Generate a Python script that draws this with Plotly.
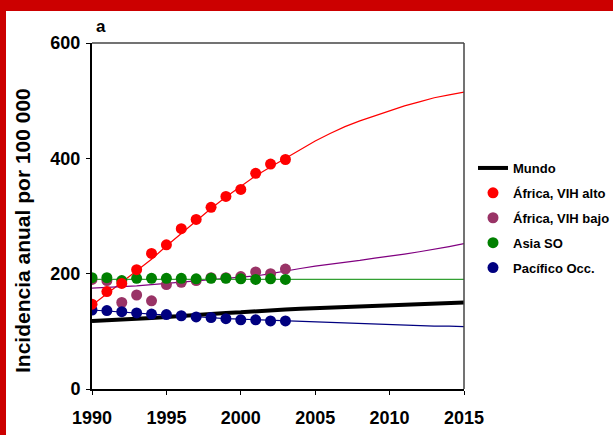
import plotly.graph_objects as go

# ---- data ----
obs_years = list(range(1990, 2004))
proj_years = list(range(1990, 2016))

africa_alto_obs = [147, 169, 183, 207, 235, 250, 278, 294, 315, 334, 346, 374, 390, 398]
africa_bajo_obs = [190, 188, 150, 163, 153, 181, 185, 188, 193, 193, 195, 203, 200, 208]
asia_so_obs = [193, 193, 188, 192, 192, 192, 192, 191, 192, 192, 191, 190, 191, 190]
pacifico_obs = [137, 136, 134, 132, 130, 129, 127, 125, 124, 122, 120, 120, 118, 118]

africa_alto_proj = [145, 165, 185, 205, 225, 248, 270, 292, 313, 333, 352, 370, 385, 400,
                    415, 430, 443, 455, 465, 474, 483, 491, 498, 505, 510, 515]
africa_bajo_proj = [175, 176, 178, 179, 181, 183, 185, 187, 189, 191, 193, 196, 200, 205,
                    209, 213, 216, 220, 223, 227, 230, 234, 238, 242, 247, 252]
asia_so_proj = [190] * 26
pacifico_proj = [137, 135, 133, 131, 130, 128, 127, 125, 124, 122, 121, 120, 119, 118,
                 117, 117, 116, 115, 114, 113, 112, 111, 110, 109, 109, 108]
mundo_proj = [118, 119, 120, 122, 123, 125, 127, 128, 130, 132, 133, 135, 136, 138,
              139, 140, 141, 142, 143, 144, 145, 146, 147, 148, 149, 150]

x_ticks = [1990, 1995, 2000, 2005, 2010, 2015]
y_ticks = [0, 200, 400, 600]

FONT = "Arial, Liberation Sans, sans-serif"

fig = go.Figure()

# projection lines
fig.add_trace(go.Scatter(x=proj_years, y=africa_alto_proj, mode="lines",
                         line=dict(color="#FF0000", width=1.2), showlegend=False, hoverinfo="skip"))
fig.add_trace(go.Scatter(x=proj_years, y=africa_bajo_proj, mode="lines",
                         line=dict(color="#800080", width=1.2), showlegend=False, hoverinfo="skip"))
fig.add_trace(go.Scatter(x=proj_years, y=asia_so_proj, mode="lines",
                         line=dict(color="#33A033", width=1.2), showlegend=False, hoverinfo="skip"))
fig.add_trace(go.Scatter(x=proj_years, y=pacifico_proj, mode="lines",
                         line=dict(color="#000080", width=1.2), showlegend=False, hoverinfo="skip"))
fig.add_trace(go.Scatter(x=proj_years, y=mundo_proj, mode="lines", name="<b>Mundo</b>",
                         line=dict(color="black", width=4), legendgroup="g0", legendrank=1))

# observed points
MS = 11
fig.add_trace(go.Scatter(x=obs_years, y=africa_bajo_obs, mode="markers", name="<b>África, VIH bajo</b>",
                         marker=dict(color="#993366", size=MS), legendgroup="g2", legendrank=3))
fig.add_trace(go.Scatter(x=obs_years, y=asia_so_obs, mode="markers", name="<b>Asia SO</b>",
                         marker=dict(color="#008000", size=MS), legendgroup="g3", legendrank=4))
fig.add_trace(go.Scatter(x=obs_years, y=pacifico_obs, mode="markers", name="<b>Pacífico Occ.</b>",
                         marker=dict(color="#000080", size=MS), legendgroup="g4", legendrank=5))
fig.add_trace(go.Scatter(x=obs_years, y=africa_alto_obs, mode="markers", name="<b>África, VIH alto</b>",
                         marker=dict(color="#FF0000", size=MS), legendgroup="g1", legendrank=2))

L, R, T, B = 92, 149, 43, 46
W, H = 613, 435
pw, ph = W - L - R, H - T - B

def px_x(px):
    return (px - L) / pw

def px_y(py):
    return (H - B - py) / ph

shapes = [
    # red frame (top band and left band)
    dict(type="rect", xref="paper", yref="paper", x0=px_x(-5), x1=px_x(W + 5), y0=px_y(11), y1=px_y(-5),
         fillcolor="#CC0000", line=dict(width=0), layer="above"),
    dict(type="rect", xref="paper", yref="paper", x0=px_x(-5), x1=px_x(6), y0=px_y(H + 5), y1=px_y(-5),
         fillcolor="#CC0000", line=dict(width=0), layer="above"),
    # top and right plot frame
    dict(type="line", xref="paper", yref="paper", x0=0, x1=1, y0=1, y1=1,
         line=dict(color="#444444", width=1.5)),
    dict(type="line", xref="paper", yref="paper", x0=1, x1=1, y0=0, y1=1,
         line=dict(color="#444444", width=1.5)),
]

fig.update_layout(
    width=W, height=H,
    margin=dict(l=L, r=R, t=T, b=B, autoexpand=False),
    paper_bgcolor="white", plot_bgcolor="white",
    font=dict(family=FONT, color="black"),
    showlegend=True,
    legend=dict(x=px_x(473), y=px_y(153), xanchor="left", yanchor="top",
                font=dict(family=FONT, size=13, color="black"),
                traceorder="grouped", tracegroupgap=5, itemwidth=30,
                bgcolor="rgba(0,0,0,0)", borderwidth=0),
    shapes=shapes,
    annotations=[
        dict(text="<b>a</b>", xref="paper", yref="paper", x=px_x(101), y=px_y(26),
             showarrow=False, font=dict(family=FONT, size=17, color="black"),
             xanchor="center", yanchor="middle"),
        dict(text="<b>Incidencia anual por 100 000</b>", xref="paper", yref="paper",
             x=px_x(22), y=px_y(231), textangle=-90, showarrow=False,
             font=dict(family=FONT, size=21, color="black"),
             xanchor="center", yanchor="middle"),
    ],
    xaxis=dict(range=[1990, 2015], tickvals=x_ticks, ticktext=[f"<b>{v}</b>" for v in x_ticks],
               showgrid=False, zeroline=False, showline=True, linecolor="black", linewidth=2,
               ticks="outside", ticklen=4, tickcolor="black", tickwidth=1, automargin=False,
               ticklabelstandoff=7,
               tickfont=dict(family=FONT, size=18, color="black")),
    yaxis=dict(range=[0, 600], tickvals=y_ticks, ticktext=[f"<b>{v}</b>" for v in y_ticks],
               showgrid=False, zeroline=False, showline=True, linecolor="black", linewidth=2,
               ticks="outside", ticklen=4, tickcolor="black", tickwidth=1, automargin=False,
               ticklabelstandoff=2,
               tickfont=dict(family=FONT, size=18, color="black")),
)

fig.write_html("out.html", post_script="document.body.style.margin='0';",
               config={"displayModeBar": False})
